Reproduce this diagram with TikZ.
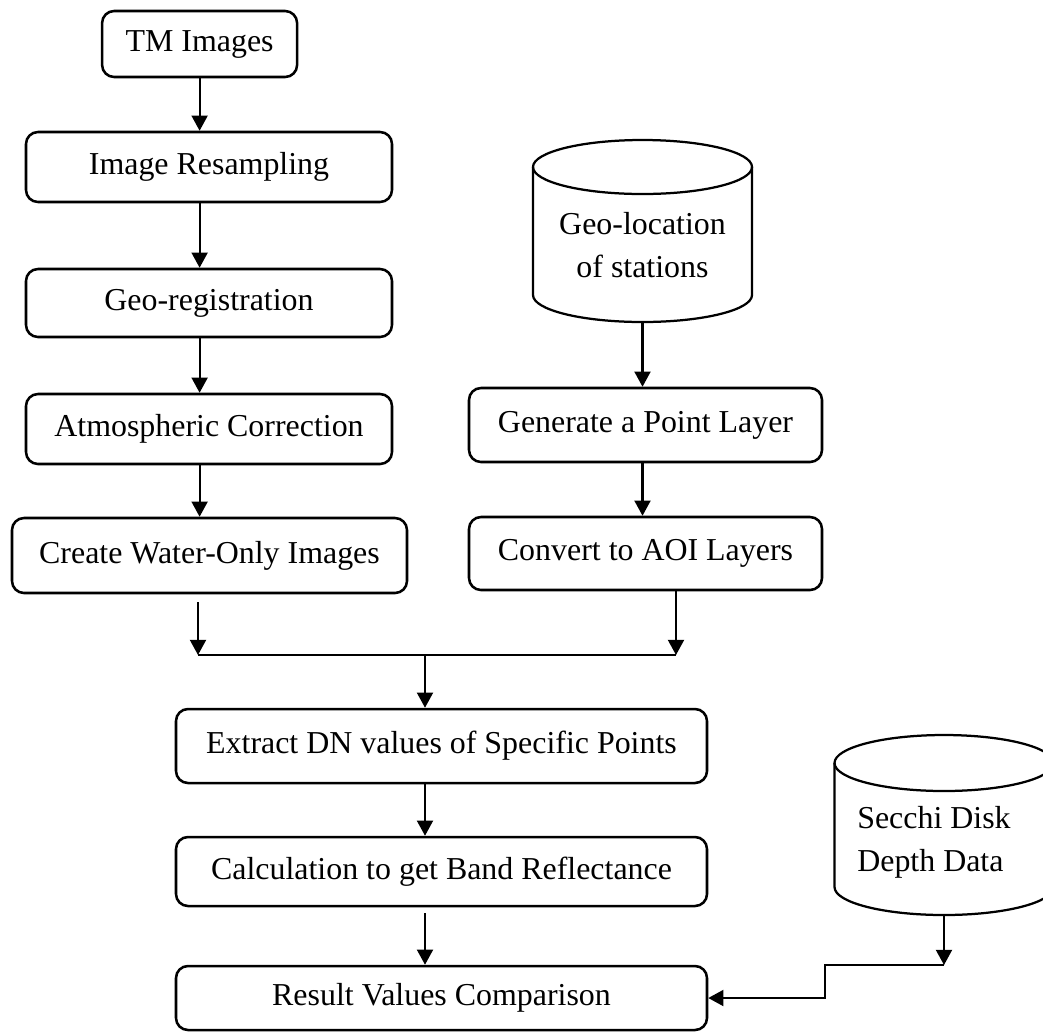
\documentclass[tikz,border=0pt]{standalone}
\usepackage{fontspec}
\setmainfont{Liberation Serif}
\usetikzlibrary{positioning, calc, arrows.meta}

\begin{document}
\begin{tikzpicture}[
        box/.style={draw, line width=1.8pt, rounded corners=0.3cm, inner sep=0pt, font=\fontsize{22.7}{31}\selectfont},
        testo/.style={inner sep=0pt, align=center, font=\fontsize{22.7}{31}\selectfont},
        linea/.style={line width=1.6pt},
        freccia/.style={line width=1.5pt, -{Triangle[length=0.38cm, width=0.4cm]}}
    ]
        \useasboundingbox (0,0) rectangle (26.075,-25.825);
        %colonna sinistra
        \node[box, minimum width=4.875cm, minimum height=1.65cm] (tm) at (4.99,-1.10) {TM Images};
        \node[box, minimum width=9.15cm, minimum height=1.75cm] (resamp) at (5.225,-4.175) {Image Resampling};
        \node[box, minimum width=9.15cm, minimum height=1.7cm] (georeg) at (5.225,-7.575) {Geo-registration};
        \node[box, minimum width=9.15cm, minimum height=1.75cm] (atmos) at (5.225,-10.725) {Atmospheric Correction};
        \node[box, minimum width=9.875cm, minimum height=1.875cm] (water) at (5.2375,-13.8875) {Create Water-Only Images};
        %cilindro stazioni
        \draw[linea] (13.325,-4.175) -- (13.325,-7.375) arc[start angle=180, end angle=360, x radius=2.7375cm, y radius=0.675cm] -- (18.8,-4.175);
        \draw[linea] (16.0625,-4.175) ellipse [x radius=2.7375cm, y radius=0.675cm];
        \node[testo] (geoloc) at (16.0625,-6.125) {Geo-location\\of stations};
        \coordinate (geolocbot) at (16.0625,-8.05);
        %colonna destra
        \node[box, minimum width=8.825cm, minimum height=1.85cm] (generate) at (16.1375,-10.625) {Generate a Point Layer};
        \node[box, minimum width=8.825cm, minimum height=1.825cm] (convert) at (16.1375,-13.8375) {Convert to AOI Layers};
        %parte bassa
        \node[box, minimum width=13.275cm, minimum height=1.85cm] (extract) at (11.0375,-18.65) {Extract DN values of Specific Points};
        \node[box, minimum width=13.275cm, minimum height=1.725cm] (calc) at (11.0375,-21.7875) {Calculation to get Band Reflectance};
        \node[box, minimum width=13.275cm, minimum height=1.6cm] (result) at (11.0375,-24.95) {Result Values Comparison};
        %cilindro secchi
        \draw[linea] (20.8625,-19.075) -- (20.8625,-22.175) arc[start angle=180, end angle=360, x radius=2.7375cm, y radius=0.7cm] -- (26.3375,-19.075);
        \draw[linea] (23.6,-19.075) ellipse [x radius=2.7375cm, y radius=0.7cm];
        \node[testo, align=left, anchor=west] (secchi) at (21.425,-21.0625) {Secchi Disk\\Depth Data};
        \coordinate (secchibot) at (23.6,-22.875);
        \coordinate (gomito) at (23.6,-24.125);
        %frecce sinistra
        \draw[freccia] (tm) -- (tm |- resamp.north);
        \draw[freccia] (resamp.south -| tm) -- (georeg.north -| tm);
        \draw[freccia] (georeg.south -| tm) -- (atmos.north -| tm);
        \draw[freccia] (atmos.south -| tm) -- (water.north -| tm);
        %frecce destra
        \draw[freccia] (geolocbot) -- (geolocbot |- generate.north);
        \draw[freccia] (generate.south -| geolocbot) -- (convert.north -| geolocbot);
        %unione
        \coordinate (barleft) at (4.95,-16.375);
        \coordinate (barmid) at (10.625,-16.375);
        \coordinate (barright) at (16.9,-16.375);
        \draw[freccia] ($(water.south -| barleft)+(0,-0.2)$) -- (barleft);
        \draw[freccia] (convert.south -| barright) -- (barright);
        \draw[linea] (barleft) -- (barright);
        \draw[freccia] (barmid) -- (barmid |- extract.north);
        \draw[freccia] (extract.south -| barmid) -- (calc.north -| barmid);
        \draw[freccia] ($(calc.south -| barmid)+(0,-0.15)$) -- (result.north -| barmid);
        %secchi al confronto
        \draw[freccia] (secchibot) -- (gomito);
        \draw[freccia] (gomito) -- (20.625,-24.125) |- (result.east);
    \end{tikzpicture}
\end{document}
